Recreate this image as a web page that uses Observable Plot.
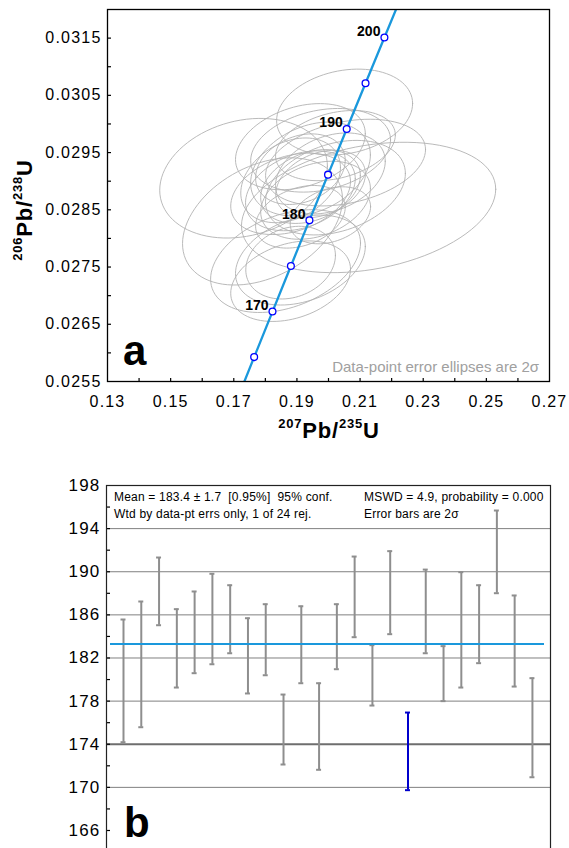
<!DOCTYPE html>
<html><head><meta charset="utf-8">
<script src="https://cdn.jsdelivr.net/npm/d3@7"></script>
<script src="https://cdn.jsdelivr.net/npm/@observablehq/plot@0.6"></script>
<style>
html,body{margin:0;padding:0;background:#fff;overflow:hidden;}
#chart svg{display:block;}
g[aria-label="x-axis tick label"], g[aria-label="y-axis tick label"]{letter-spacing:1.2px;}
</style></head><body><div id="chart"></div>
<script>
// ---------- Panel a : concordia diagram ----------
const concAge = [160, 165, 170, 175, 180, 185, 190, 195, 200, 205, 210];
const conc207 = [0.17067, 0.17645, 0.18226, 0.18809, 0.19396, 0.19985, 0.20577, 0.21173, 0.21771, 0.22372, 0.22977];
const conc206 = [0.025131, 0.025926, 0.026722, 0.027519, 0.028316, 0.029114, 0.029912, 0.030712, 0.031511, 0.032312, 0.033113];
const markerAges = [165, 170, 175, 180, 185, 190, 195, 200];
const labelAges = [170, 180, 190, 200];

// 24 analyses: 207Pb/235U, 2s err, 206Pb/238U, 2s err, error correlation
const ell207    = [0.1791, 0.2127, 0.2022, 0.1880, 0.1880, 0.1943, 0.1911, 0.1959, 0.1943, 0.1880, 0.1911, 0.1911,
                   0.1975, 0.1975, 0.1911, 0.1911, 0.1880, 0.2054, 0.2006, 0.1731, 0.2006, 0.2051, 0.2022, 0.1864];
const ell207err = [0.0207, 0.0329, 0.0155, 0.0155, 0.0129, 0.0155, 0.0116, 0.0142, 0.0129, 0.0116, 0.0142, 0.0168,
                   0.0116, 0.0181, 0.0116, 0.0168, 0.0155, 0.0207, 0.0104, 0.0217, 0.0142, 0.0176, 0.0181, 0.0194];
const ell206    = [0.028297, 0.028541, 0.029622, 0.028779, 0.029015, 0.029213, 0.029210, 0.028667, 0.028907, 0.027577, 0.028832, 0.027622,
                   0.028951, 0.029540, 0.028378, 0.029603, 0.027253, 0.029325, 0.028404, 0.029052, 0.029136, 0.030208, 0.028887, 0.027604];
const ell206err = [0.000908, 0.000931, 0.000501, 0.000581, 0.000605, 0.000670, 0.000504, 0.000557, 0.000527, 0.000519, 0.000570, 0.000642,
                   0.000482, 0.000597, 0.000447, 0.000615, 0.000575, 0.000619, 0.000407, 0.000854, 0.000578, 0.000613, 0.000675, 0.000734];
const ellRho    = [0.35, 0.28, 0.30, 0.30, 0.30, 0.30, 0.25, 0.30, 0.30, 0.20, 0.30, 0.30,
                   0.30, 0.25, 0.30, 0.30, 0.30, 0.30, 0.30, 0.20, 0.30, 0.20, 0.30, 0.35];

const xLabelsA = [0.13, 0.15, 0.17, 0.19, 0.21, 0.23, 0.25, 0.27];
const xMinorA  = [0.14, 0.15, 0.16, 0.17, 0.18, 0.19, 0.20, 0.21, 0.22, 0.23, 0.24, 0.25, 0.26];
const yLabelsA = [0.0255, 0.0265, 0.0275, 0.0285, 0.0295, 0.0305, 0.0315];
const yMinorA  = [0.0260, 0.0265, 0.0270, 0.0275, 0.0280, 0.0285, 0.0290, 0.0295, 0.0300, 0.0305, 0.0310, 0.0315];

// ---------- Panel b : weighted mean ----------
const barLow  = [174.19, 175.58, 185.04, 179.26, 180.59, 181.42, 182.44, 178.71, 180.40, 172.12, 179.66, 171.63,
                 180.96, 183.93, 177.59, 184.21, 169.74, 182.44, 178.00, 179.26, 181.52, 188.01, 179.35, 170.94];
const barHigh = [185.57, 187.24, 191.32, 186.53, 188.17, 189.81, 188.75, 185.69, 186.99, 178.61, 186.80, 179.66,
                 186.99, 191.41, 183.19, 191.91, 176.94, 190.20, 183.10, 189.96, 188.75, 195.68, 187.80, 180.13];
const rejectedIndex = [17];
const meanAge = 183.3;
const gridB = [170, 178, 182, 186, 190, 194];
const gridBDark = [174];
const yLabelsB = [166, 170, 174, 178, 182, 186, 190, 194, 198];
const yMinorB = [166, 168, 170, 172, 174, 176, 178, 180, 182, 184, 186, 188, 190, 192, 194, 196];

// ----- build tables -----
const K = 1.2238;
const ellPts = [];
for (let i = 0; i < ell207.length; i++) {
  const r = ellRho[i], s = Math.sqrt(1 - r * r);
  for (let j = 0; j <= 90; j++) {
    const t = 2 * Math.PI * j / 90;
    ellPts.push({id: i,
      x: ell207[i] + K * ell207err[i] * Math.cos(t),
      y: ell206[i] + K * ell206err[i] * (r * Math.cos(t) + s * Math.sin(t))});
  }
}
const conc = concAge.map((a, i) => ({age: a, x: conc207[i], y: conc206[i]}));
const markers = conc.filter(d => markerAges.includes(d.age));
const labels = conc.filter(d => labelAges.includes(d.age));

const bars = barLow.map((lo, k) => ({i: k + 1, lo, hi: barHigh[k], rej: rejectedIndex.includes(k + 1)}));
const okBars = bars.filter(d => !d.rej), rejBars = bars.filter(d => d.rej);

const FONT = "Liberation Sans, Arial, Helvetica, sans-serif";
const BLUE = "#1a98dc";

const plotA = Plot.plot({
  width: 569, height: 450, marginLeft: 107, marginRight: 20, marginTop: 9, marginBottom: 69,
  x: {domain: [0.13, 0.27]}, y: {domain: [0.0255, 0.032]},
  style: {fontFamily: FONT, background: "#fff"},
  marks: [
    Plot.line(ellPts, {x: "x", y: "y", z: "id", stroke: "#b2b2b2", strokeWidth: 0.9, curve: "linear-closed", clip: true}),
    Plot.line(conc, {x: "x", y: "y", stroke: BLUE, strokeWidth: 2.3, clip: true}),
    Plot.dot(markers, {x: "x", y: "y", r: 3.4, fill: "white", stroke: "#0000ff", strokeWidth: 1.3}),
    Plot.text(labels, {x: "x", y: "y", text: d => String(d.age), dx: -4, dy: -6, textAnchor: "end", fontWeight: "bold", fontSize: 14}),
    Plot.tickY(yMinorA, {y: d => d, insetRight: 438, stroke: "#000", strokeWidth: 1.2}),
    Plot.tickX(xMinorA, {x: d => d, insetTop: 369, stroke: "#000", strokeWidth: 1.2}),
    Plot.axisX({ticks: xLabelsA, tickSize: 0, tickPadding: 14, fontSize: 16, tickFormat: d3.format(".2f"), label: null}),
    Plot.axisY({ticks: yLabelsA, tickSize: 0, tickPadding: 6, fontSize: 16, tickFormat: d3.format(".4f"), label: null}),
    Plot.frame({stroke: "#000", strokeWidth: 1.3})
  ]
});

const plotB = Plot.plot({
  width: 569, height: 410, marginLeft: 106, marginRight: 19, marginTop: 35, marginBottom: 0,
  x: {domain: [0.044, 25.016], axis: null}, y: {domain: [163.217, 198]},
  style: {fontFamily: FONT, background: "#fff"},
  marks: [
    Plot.ruleY(gridB, {y: d => d, stroke: "#808080", strokeWidth: 1}),
    Plot.ruleY(gridBDark, {y: d => d, stroke: "#6e6e6e", strokeWidth: 1.8}),
    Plot.ruleX(okBars, {x: "i", y1: "lo", y2: "hi", stroke: "#8e8e8e", strokeWidth: 2}),
    Plot.ruleY(okBars, {y: "lo", x1: d => d.i - 0.14, x2: d => d.i + 0.14, stroke: "#8e8e8e", strokeWidth: 2}),
    Plot.ruleY(okBars, {y: "hi", x1: d => d.i - 0.14, x2: d => d.i + 0.14, stroke: "#8e8e8e", strokeWidth: 2}),
    Plot.ruleX(rejBars, {x: "i", y1: "lo", y2: "hi", stroke: "#0000cc", strokeWidth: 2}),
    Plot.ruleY(rejBars, {y: "lo", x1: d => d.i - 0.14, x2: d => d.i + 0.14, stroke: "#0000cc", strokeWidth: 2}),
    Plot.ruleY(rejBars, {y: "hi", x1: d => d.i - 0.14, x2: d => d.i + 0.14, stroke: "#0000cc", strokeWidth: 2}),
    Plot.ruleY([meanAge], {y: d => d, stroke: BLUE, strokeWidth: 2.2, insetLeft: 4, insetRight: 6}),
    Plot.tickY(yMinorB, {y: d => d, insetRight: 440, stroke: "#000", strokeWidth: 1.2}),
    Plot.axisY({ticks: yLabelsB, tickSize: 0, tickPadding: 6, fontSize: 17, tickFormat: d3.format("d"), label: null}),
    Plot.frame({stroke: "#222", strokeWidth: 1.2})
  ]
});

// ----- annotations -----
function ratioTitle(sel, supA, supB) {
  sel.attr("font-weight", "bold").attr("fill", "#000").style("letter-spacing", "0.8px");
  sel.append("tspan").attr("font-size", 13).attr("dy", -10).text(supA);
  sel.append("tspan").attr("font-size", 22).attr("dy", 10).text("Pb/");
  sel.append("tspan").attr("font-size", 13).attr("dy", -10).text(supB);
  sel.append("tspan").attr("font-size", 22).attr("dy", 10).text("U");
}
const ts = d3.select(plotA);
ratioTitle(ts.append("text").attr("x", 329).attr("y", 438).attr("text-anchor", "middle"), "207", "235");
ratioTitle(ts.append("text").attr("transform", "translate(32,210) rotate(-90)").attr("text-anchor", "middle"), "206", "238");
ts.append("text").attr("x", 123).attr("y", 365).attr("text-anchor", "start").attr("font-size", 42).attr("font-weight", "bold").text("a");
ts.append("text").attr("x", 539).attr("y", 372).attr("text-anchor", "end").attr("font-size", 15)
  .attr("fill", "#a0a0a0").text("Data-point error ellipses are 2σ");

const bs = d3.select(plotB);
const note = (x, y, t) => bs.append("text").attr("x", x).attr("y", y).attr("text-anchor", "start").attr("font-size", 12)
  .style("white-space", "pre").style("letter-spacing", "0.2px").attr("fill", "#000").text(t);
note(114, 50.5, "Mean = 183.4 ± 1.7  [0.95%]  95% conf.");
note(114, 67.5, "Wtd by data-pt errs only, 1 of 24 rej.");
note(364, 50.5, "MSWD = 4.9, probability = 0.000");
note(364, 67.5, "Error bars are 2σ");
bs.append("text").attr("x", 124).attr("y", 387).attr("text-anchor", "start").attr("font-size", 42).attr("font-weight", "bold").text("b");

document.getElementById("chart").append(plotA, plotB);
</script></body></html>
